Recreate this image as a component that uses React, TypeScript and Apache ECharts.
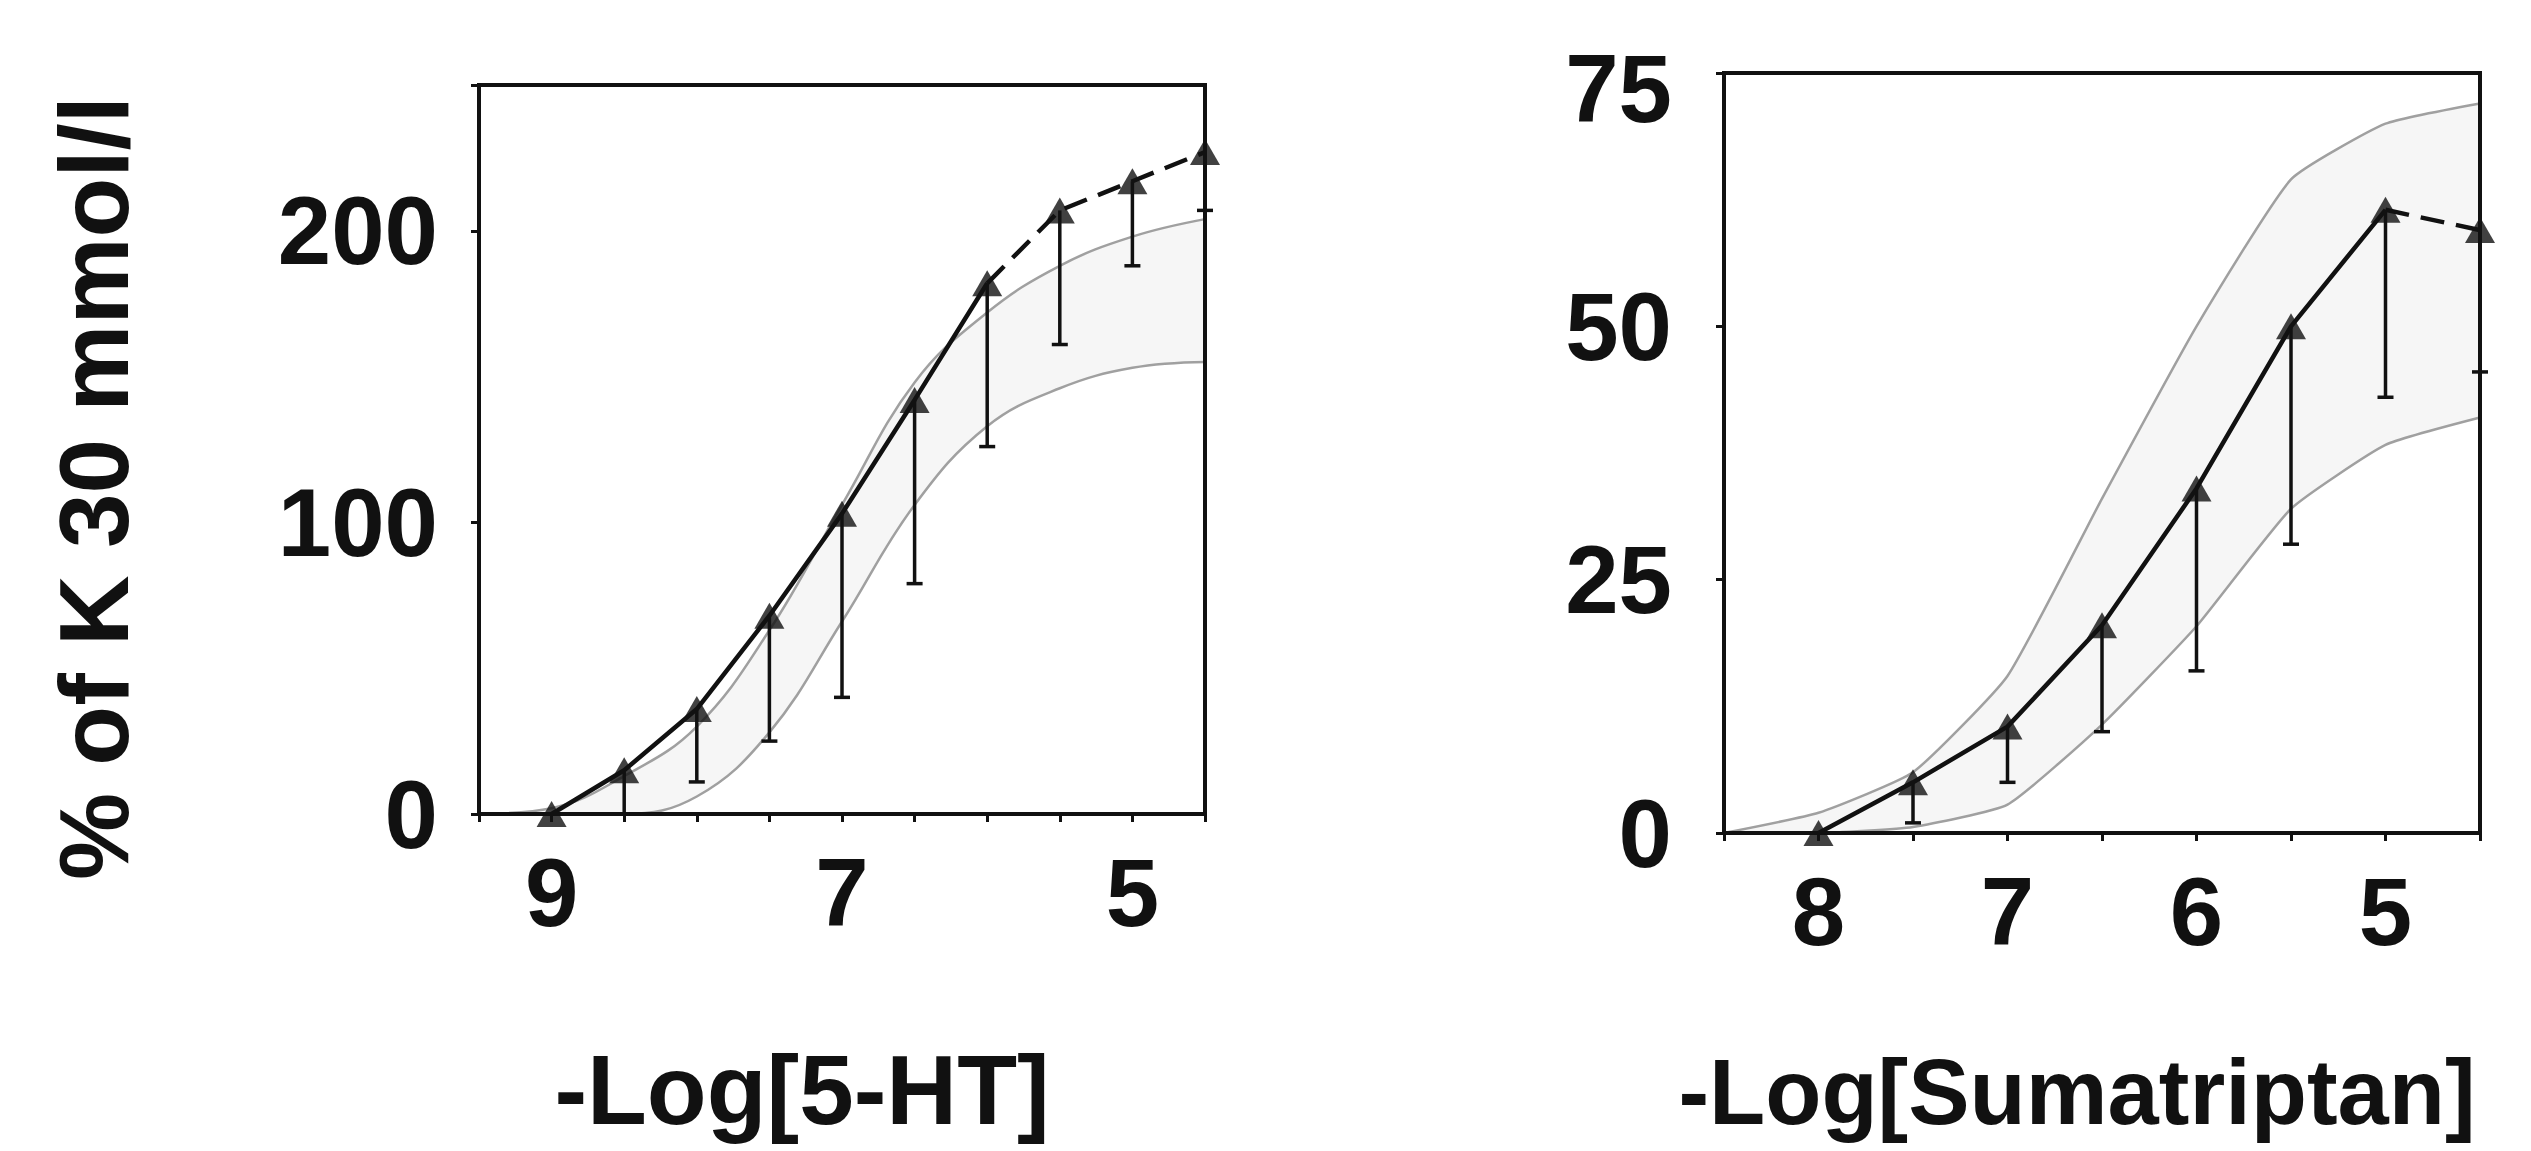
import React, { useEffect, useRef } from 'react';
import * as echarts from 'echarts';

const FONT = '"Liberation Sans", Arial, Helvetica, sans-serif';
const INK = '#111111';
const GRAY = '#a0a0a0';
const BAND = '#f6f6f6';

// ---- Left panel: 5-HT ----
const x5HT = [9.0, 8.5, 8.0, 7.5, 7.0, 6.5, 6.0, 5.5, 5.0, 4.5];
const mean5HT = [0, 15, 36, 68, 103, 142, 182, 207, 217, 227];
const low5HT = [0, 0, 11, 25, 40, 79, 126, 161, 188, 207];
const band5HTx = [9.5, 9.0, 8.5, 8.0, 7.5, 7.0, 6.5, 6.0, 5.5, 5.0, 4.5];
const band5HTupper = [0, 2, 13, 30, 63, 106, 148, 172, 188, 198, 204];
const band5HTlower = [0, 0, 0, 6, 28, 66, 106, 133, 146, 153, 155];
const xLabels5HT = [9, 7, 5];
const yTicks5HT = [0, 100, 200];

// ---- Right panel: Sumatriptan ----
const xSuma = [8.0, 7.5, 7.0, 6.5, 6.0, 5.5, 5.0, 4.5];
const meanSuma = [0, 5, 10.5, 20.5, 34, 50, 61.5, 59.5];
const lowSuma = [0, 1, 5, 10, 16, 28.5, 43, 45.5];
const bandSumaX = [8.5, 8.0, 7.5, 7.0, 6.5, 6.0, 5.5, 5.0, 4.5];
const bandSumaUpper = [0, 2, 6, 15.5, 33, 50, 64.5, 70, 72];
const bandSumaLower = [0, 0, 0.6, 2.8, 10.7, 20.4, 32, 38.3, 41];
const xLabelsSuma = [8, 7, 6, 5];
const yTicksSuma = [0, 25, 50, 75];

const zip = (xs: number[], ys: number[]) => xs.map((x, i) => [x, ys[i]]);

function panelSeries(
  idx: number,
  xs: number[],
  mean: number[],
  low: number[],
  bx: number[],
  bu: number[],
  bl: number[],
  dashFrom: number,
  smooth: number
): any[] {
  const ax = { xAxisIndex: idx, yAxisIndex: idx };
  const meanPts = zip(xs, mean);
  return [
    // upper curve of the band, shaded down to zero
    {
      ...ax,
      type: 'line',
      data: zip(bx, bu),
      smooth,
      symbol: 'none',
      lineStyle: { color: GRAY, width: 2.5 },
      areaStyle: { color: BAND, opacity: 1 },
      silent: true,
      z: 1,
    },
    // lower curve of the band, with white below it so only the band stays shaded
    {
      ...ax,
      type: 'line',
      data: zip(bx, bl),
      smooth,
      symbol: 'none',
      lineStyle: { color: GRAY, width: 2.5 },
      areaStyle: { color: '#ffffff', opacity: 1 },
      silent: true,
      z: 2,
    },
    {
      ...ax,
      type: 'custom',
      z: 4,
      silent: true,
      data: xs.map((x, i) => [x, mean[i], low[i]]).filter((d) => d[1] > d[2]),
      encode: { x: 0, y: [1, 2] },
      renderItem: (_p: any, api: any) => {
        const top = api.coord([api.value(0), api.value(1)]);
        const bot = api.coord([api.value(0), api.value(2)]);
        return {
          type: 'group',
          children: [
            {
              type: 'line',
              shape: { x1: top[0], y1: top[1], x2: bot[0], y2: bot[1] },
              style: { stroke: INK, lineWidth: 3.5 },
            },
            {
              type: 'line',
              shape: { x1: bot[0] - 8, y1: bot[1], x2: bot[0] + 8, y2: bot[1] },
              style: { stroke: INK, lineWidth: 3.5 },
            },
          ],
        };
      },
    },
    {
      ...ax,
      type: 'line',
      data: meanPts.slice(0, dashFrom + 1),
      symbol: 'none',
      lineStyle: { color: INK, width: 4.5 },
      silent: true,
      z: 5,
    },
    {
      ...ax,
      type: 'line',
      data: meanPts.slice(dashFrom),
      symbol: 'none',
      lineStyle: { color: INK, width: 4.5, type: [24, 12] },
      silent: true,
      z: 5,
    },
    {
      ...ax,
      type: 'scatter',
      data: meanPts,
      symbol: 'triangle',
      symbolSize: [30, 26],
      itemStyle: { color: INK },
      silent: true,
      z: 6,
    },
  ];
}

const labelStyle = {
  fontFamily: FONT,
  fontWeight: 'bold' as const,
  fontSize: 96,
  color: INK,
};

function xAxisCfg(idx: number, min: number, max: number, labels: number[]) {
  return {
    type: 'value',
    gridIndex: idx,
    inverse: true,
    min,
    max,
    interval: 0.5,
    z: 10,
    axisLine: { show: true, lineStyle: { color: INK, width: 4 } },
    axisTick: { show: true, inside: false, length: 8, lineStyle: { color: INK, width: 3 } },
    splitLine: { show: false },
    axisLabel: {
      ...labelStyle,
      margin: 30,
      formatter: (v: number) => (labels.indexOf(v) >= 0 ? String(v) : ''),
    },
  };
}

function yAxisCfg(idx: number, ticks: number[], max: number, margin: number, lowerTop: boolean) {
  const step = ticks[1] - ticks[0];
  const last = ticks[ticks.length - 1];
  return {
    type: 'value',
    gridIndex: idx,
    min: ticks[0],
    max,
    interval: step,
    z: 10,
    axisLine: { show: true, lineStyle: { color: INK, width: 4 } },
    axisTick: { show: true, inside: false, length: 8, lineStyle: { color: INK, width: 3 } },
    splitLine: { show: false },
    axisLabel: {
      ...labelStyle,
      margin,
      formatter: (v: number) => {
        if (ticks.indexOf(v) < 0) return '';
        return lowerTop && v === last ? '{low|' + v + '}' : String(v);
      },
      rich: {
        low: { ...labelStyle, padding: [30, 0, 0, 0] },
      },
    },
  };
}

export default function App() {
  const ref = useRef<HTMLDivElement>(null);

  useEffect(() => {
    if (!ref.current) return;
    const chart = echarts.init(ref.current, undefined, { renderer: 'svg' });
    const gridBase = {
      show: true,
      z: 10,
      borderColor: INK,
      borderWidth: 4,
      backgroundColor: 'transparent',
      containLabel: false,
    };
    chart.setOption({
      animation: false,
      backgroundColor: '#ffffff',
      grid: [
        { ...gridBase, left: 479, top: 85, width: 726, height: 729 },
        { ...gridBase, left: 1724, top: 73, width: 756, height: 760 },
      ],
      xAxis: [
        xAxisCfg(0, 4.5, 9.5, xLabels5HT),
        xAxisCfg(1, 4.5, 8.5, xLabelsSuma),
      ],
      yAxis: [
        yAxisCfg(0, yTicks5HT, 250, 41, false),
        yAxisCfg(1, yTicksSuma, 75, 52, true),
      ],
      series: [
        ...panelSeries(0, x5HT, mean5HT, low5HT, band5HTx, band5HTupper, band5HTlower, 6, 0.4),
        ...panelSeries(1, xSuma, meanSuma, lowSuma, bandSumaX, bandSumaUpper, bandSumaLower, 6, 0.15),
      ],
      graphic: [
        {
          type: 'text',
          x: 94,
          y: 488,
          rotation: Math.PI / 2,
          style: {
            text: '% of K 30 mmol/l',
            fontFamily: FONT,
            fontWeight: 'bold',
            fontSize: 98,
            fill: INK,
            align: 'center',
            verticalAlign: 'middle',
          },
        },
        {
          type: 'text',
          x: 802,
          y: 1090,
          style: {
            text: '-Log[5-HT]',
            fontFamily: FONT,
            fontWeight: 'bold',
            fontSize: 98,
            fill: INK,
            align: 'center',
            verticalAlign: 'middle',
          },
        },
        {
          type: 'text',
          x: 2077,
          y: 1092,
          style: {
            text: '-Log[Sumatriptan]',
            fontFamily: FONT,
            fontWeight: 'bold',
            fontSize: 92,
            fill: INK,
            align: 'center',
            verticalAlign: 'middle',
          },
        },
      ],
    });
    return () => chart.dispose();
  }, []);

  return (
    <div
      ref={ref}
      style={{ position: 'absolute', left: 0, top: 0, width: 2531, height: 1151 }}
    />
  );
}
